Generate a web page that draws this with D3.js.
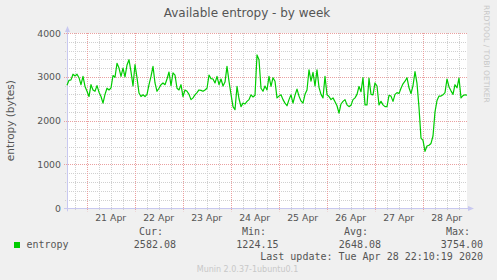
<!DOCTYPE html>
<html>
<head>
<meta charset="utf-8">
<script src="https://cdn.jsdelivr.net/npm/d3@7"></script>
<style>
  body { margin: 0; background: #f0f0f0; }
  svg { display: block; }
  text { font-family: "DejaVu Sans", sans-serif; }
  .mono { font-family: "DejaVu Sans Mono", monospace; }
</style>
</head>
<body>
<div id="chart"></div>
<script>
/* entropy samples, one per hour from 20 Apr 14:10 to 28 Apr 22:10 (UTC) */
var startTime = "2020-04-20T14:10:00Z";
var entropy = [
  2810, 2920, 2930, 3060, 3020, 3060, 2980, 2820, 3010, 2780,
  2670, 2550, 2820, 2700, 2670, 2800, 2650, 2550, 2400, 2600,
  2740, 2700, 2750, 3030, 2990, 3310, 3200, 3010, 3200, 3000,
  3270, 3390, 3120, 2790, 3280, 2980, 2630, 2550, 2590, 2550,
  2600, 2820, 3010, 3240, 2860, 2670, 2740, 2820, 2860, 2820,
  2950, 3110, 2800, 3090, 3040, 2740, 2700, 2820, 2550, 2700,
  2670, 2600, 2480, 2520, 2590, 2640, 2700, 2690, 2670, 2700,
  2740, 3040, 2960, 2950, 2860, 3010, 2820, 2950, 2790, 2880,
  3240, 2900, 2600, 2320, 2250, 2780, 2500, 2320, 2400, 2380,
  2440, 2480, 2590, 2540, 2580, 3500, 3390, 2740, 2670, 2790,
  2700, 3010, 2780, 2980, 2900, 2520, 2560, 2590, 2480, 2400,
  2340, 2480, 2590, 2400, 2580, 2720, 2560, 2450, 2400, 2600,
  2700, 3160, 2900, 3100, 2790, 3160, 2760, 2600, 2520, 3010,
  2590, 2550, 2480, 2520, 2430, 2340, 2170, 2380, 2440, 2480,
  2360, 2320, 2350, 2480, 2520, 2600, 2780, 2660, 2980, 2360,
  2360, 2970, 2600, 2590, 2860, 2790, 2360, 2440, 2360, 2320,
  2320, 2580, 2560, 2440, 2600, 2640, 2620, 2740, 2840, 2900,
  2980, 2750, 2620, 2800, 3120, 2850, 2300, 1600, 1550, 1300,
  1420, 1440, 1480, 1650, 2200, 2460, 2560, 2560, 2590, 2640,
  2950, 2770, 2680, 2600, 2820, 2750, 2970, 2520, 2570, 2590,
  2582
];
var yTicks = [0, 1000, 2000, 3000, 4000];
var dayLabels = ["21 Apr", "22 Apr", "23 Apr", "24 Apr", "25 Apr", "26 Apr", "27 Apr", "28 Apr"];
var legendHeads = ["Cur:", "Min:", "Avg:", "Max:"];
var legendValues = ["2582.08", "1224.15", "2648.08", "3754.00"];
var lastUpdate = "Last update: Tue Apr 28 22:10:19 2020";

var W = 497, H = 280;
var plotL = 67, plotR = 467, plotT = 33, plotB = 208.3;

var t0 = new Date(startTime);
var data = entropy.map(function(v, i) {
  return {t: new Date(t0.getTime() + i * 3600 * 1000), v: v};
});

var svg = d3.select("#chart").append("svg")
  .attr("width", W).attr("height", H);

svg.append("rect").attr("width", W).attr("height", H).attr("fill", "#f0f0f0");

var x = d3.scaleUtc()
  .domain([t0, data[data.length - 1].t])
  .range([plotL, plotR]);
var y = d3.scaleLinear().domain([0, 4000]).range([plotB, plotT]);

svg.append("rect")
  .attr("x", plotL).attr("y", plotT)
  .attr("width", plotR - plotL).attr("height", plotB - plotT)
  .attr("fill", "#ffffff");

// minor grid: every 6 hours and every 200 bytes
var minorX = d3.utcHour.every(6).range(x.domain()[0], x.domain()[1]);
svg.append("g").selectAll("line")
  .data(minorX.filter(function(d) { return d.getUTCHours() != 0; }))
  .enter().append("line")
  .attr("x1", function(d) { return Math.round(x(d)) + 0.5; })
  .attr("x2", function(d) { return Math.round(x(d)) + 0.5; })
  .attr("y1", plotT).attr("y2", plotB + 2)
  .attr("stroke", "#d0d0d0").attr("stroke-dasharray", "1,1");

svg.append("g").selectAll("line")
  .data(d3.range(200, 4001, 200).filter(function(d) { return d % 1000 != 0; }))
  .enter().append("line")
  .attr("x1", plotL - 2).attr("x2", plotR)
  .attr("y1", function(d) { return Math.round(y(d)) + 0.5; })
  .attr("y2", function(d) { return Math.round(y(d)) + 0.5; })
  .attr("stroke", "#d0d0d0").attr("stroke-dasharray", "1,1");

// major grid: days and thousands
var days = d3.utcDay.range(x.domain()[0], x.domain()[1]);
svg.append("g").selectAll("line")
  .data(days)
  .enter().append("line")
  .attr("x1", function(d) { return Math.round(x(d)) + 0.5; })
  .attr("x2", function(d) { return Math.round(x(d)) + 0.5; })
  .attr("y1", plotT).attr("y2", plotB + 3)
  .attr("stroke", "#eaa0a0").attr("stroke-dasharray", "1,1");

svg.append("g").selectAll("line")
  .data(yTicks.filter(function(d) { return d > 0; }))
  .enter().append("line")
  .attr("x1", plotL - 3).attr("x2", plotR)
  .attr("y1", function(d) { return Math.round(y(d)) + 0.5; })
  .attr("y2", function(d) { return Math.round(y(d)) + 0.5; })
  .attr("stroke", "#eaa0a0").attr("stroke-dasharray", "1,1");

// axes with arrows
svg.append("line")
  .attr("x1", plotL + 0.5).attr("x2", plotL + 0.5)
  .attr("y1", plotB + 3).attr("y2", plotT - 2)
  .attr("stroke", "#c8c8f0");
svg.append("path")
  .attr("d", "M" + (plotL - 2) + "," + (plotT - 1) + "L" + (plotL + 0.5) + "," + (plotT - 7) + "L" + (plotL + 3) + "," + (plotT - 1) + "Z")
  .attr("fill", "#c8c8f0");
svg.append("line")
  .attr("x1", plotL - 3).attr("x2", plotR + 2)
  .attr("y1", Math.round(plotB) + 0.5).attr("y2", Math.round(plotB) + 0.5)
  .attr("stroke", "#c8c8f0");
svg.append("path")
  .attr("d", "M" + (plotR + 1) + "," + (Math.round(plotB) - 2) + "L" + (plotR + 7) + "," + (Math.round(plotB) + 0.5) + "L" + (plotR + 1) + "," + (Math.round(plotB) + 3) + "Z")
  .attr("fill", "#c8c8f0");

// y tick labels
svg.append("g").selectAll("text")
  .data(yTicks)
  .enter().append("text")
  .attr("x", plotL - 6)
  .attr("y", function(d) { return y(d) + 3.5; })
  .attr("text-anchor", "end")
  .attr("font-size", "9.33px")
  .attr("fill", "#555")
  .text(function(d) { return d; });

// x labels at noon of each day
svg.append("g").selectAll("text")
  .data(days)
  .enter().append("text")
  .attr("x", function(d) { return x(d3.utcHour.offset(d, 12)); })
  .attr("y", 221)
  .attr("text-anchor", "middle")
  .attr("font-size", "9.33px")
  .attr("fill", "#555")
  .text(function(d, i) { return dayLabels[i]; });

// the line
var line = d3.line()
  .x(function(d) { return x(d.t); })
  .y(function(d) { return y(d.v); });
svg.append("path")
  .datum(data)
  .attr("d", line)
  .attr("fill", "none")
  .attr("stroke", "#00cc00")
  .attr("stroke-width", 1.2)
  .attr("stroke-linejoin", "round");

// title and labels
svg.append("text")
  .attr("x", 247).attr("y", 17)
  .attr("text-anchor", "middle")
  .attr("font-size", "12px")
  .attr("fill", "#555")
  .text("Available entropy - by week");

svg.append("text")
  .attr("transform", "translate(14," + ((plotT + plotB) / 2) + ") rotate(-90)")
  .attr("text-anchor", "middle")
  .attr("font-size", "10.5px")
  .attr("fill", "#555")
  .text("entropy (bytes)");

svg.append("text")
  .attr("transform", "translate(484,5) rotate(90)")
  .attr("font-size", "7.6px")
  .attr("fill", "#c8c8c8")
  .text("RRDTOOL / TOBI OETIKER");

// legend
svg.append("rect")
  .attr("x", 14).attr("y", 242).attr("width", 6).attr("height", 6)
  .attr("fill", "#00cc00");
svg.append("text").attr("class", "mono")
  .attr("x", 26.5).attr("y", 248)
  .attr("font-size", "10px").attr("fill", "#555")
  .text("entropy");

var headRight = [163, 266, 368, 470];
var valRight = [176, 278.5, 381, 483];
svg.append("g").selectAll("text")
  .data(legendHeads)
  .enter().append("text").attr("class", "mono")
  .attr("x", function(d, i) { return headRight[i]; })
  .attr("y", 235)
  .attr("text-anchor", "end")
  .attr("font-size", "10px").attr("fill", "#555")
  .text(function(d) { return d; });
svg.append("g").selectAll("text")
  .data(legendValues)
  .enter().append("text").attr("class", "mono")
  .attr("x", function(d, i) { return valRight[i]; })
  .attr("y", 248)
  .attr("text-anchor", "end")
  .attr("font-size", "10px").attr("fill", "#555")
  .text(function(d) { return d; });

svg.append("text").attr("class", "mono")
  .attr("x", 483).attr("y", 259.5)
  .attr("text-anchor", "end")
  .attr("font-size", "10px").attr("fill", "#555")
  .text(lastUpdate);

svg.append("text")
  .attr("x", 247.5).attr("y", 272)
  .attr("text-anchor", "middle")
  .attr("font-size", "8px")
  .attr("fill", "#c8c8c8")
  .text("Munin 2.0.37-1ubuntu0.1");
</script>
</body>
</html>
